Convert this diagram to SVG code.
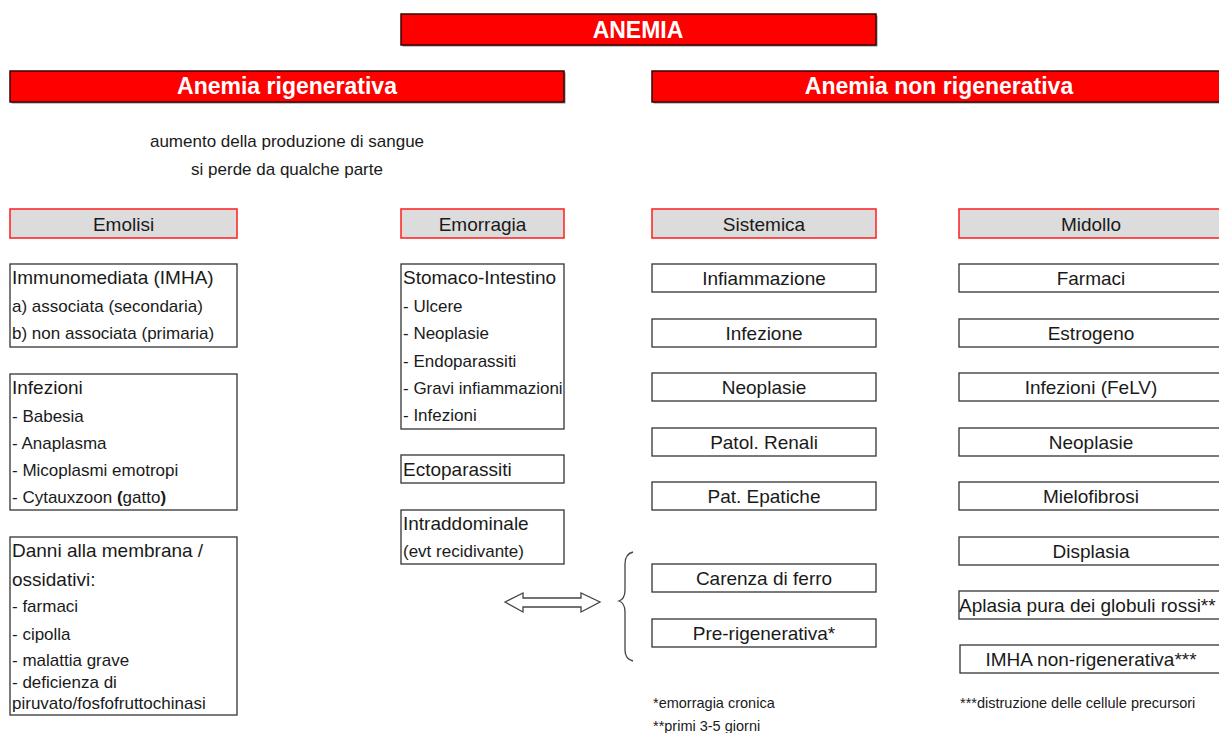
<svg xmlns="http://www.w3.org/2000/svg" width="1219" height="733" viewBox="0 0 1219 733">
<style>
text{font-family:"Liberation Sans",Arial,sans-serif;fill:#1a1a1a}
.title rect.b{fill:#ff0000;stroke:#3a0000;stroke-width:1.5}
.sh{fill:#8a8a8a}
.title text{fill:#fff;font-weight:bold;font-size:23px;text-anchor:middle}
.hdr rect{fill:#dcdcdc;stroke:#ff2a2a;stroke-width:1.6}
.hdr text{font-size:19px;text-anchor:middle}
.box rect.b{fill:#fff;stroke:#333;stroke-width:1.3}
.box .shl{fill:none;stroke:#999;stroke-width:1}
.h{font-size:19px}
.s{font-size:17px}
.c{text-anchor:middle}
.note{font-size:14.5px}
.plain{font-size:17px;text-anchor:middle}
</style>
<defs>
<filter id="none"/>
</defs>

<g id="anemia" class="title">
<rect class="sh" x="402.5" y="15.5" width="475" height="31"/>
<rect class="b" x="401" y="14" width="475" height="31"/>
<text x="638" y="38">ANEMIA</text>
</g>

<g id="anemia-rigenerativa" class="title">
<rect class="sh" x="11.5" y="72.5" width="554" height="31"/>
<rect class="b" x="10" y="71" width="554" height="31"/>
<text x="287" y="94">Anemia rigenerativa</text>
</g>

<g id="anemia-non-rigenerativa" class="title">
<rect class="sh" x="653.5" y="72.5" width="580" height="31"/>
<rect class="b" x="652" y="71" width="580" height="31"/>
<text x="939" y="94">Anemia non rigenerativa</text>
</g>

<g id="nota-rigenerativa">
<text class="plain" x="287" y="147">aumento della produzione di sangue</text>
<text class="plain" x="287" y="175">si perde da qualche parte</text>
</g>

<g id="emolisi" class="hdr">
<rect x="10" y="209" width="227" height="29"/>
<text x="123.5" y="231">Emolisi</text>
</g>
<g id="emorragia" class="hdr">
<rect x="401" y="209" width="163" height="29"/>
<text x="482.5" y="231">Emorragia</text>
</g>
<g id="sistemica" class="hdr">
<rect x="652" y="209" width="224" height="29"/>
<text x="764" y="231">Sistemica</text>
</g>
<g id="midollo" class="hdr">
<rect x="959" y="209" width="270" height="29"/>
<text x="1091" y="231">Midollo</text>
</g>

<!-- Emolisi column -->
<g id="imha" class="box">
<rect class="b" x="10" y="264" width="227" height="83"/>
<text class="h" x="12" y="284">Immunomediata (IMHA)</text>
<text class="s" x="12" y="312">a) associata (secondaria)</text>
<text class="s" x="12" y="339">b) non associata (primaria)</text>
</g>
<g id="infezioni-emolisi" class="box">
<rect class="b" x="10" y="374" width="227" height="136"/>
<text class="h" x="12" y="394">Infezioni</text>
<text class="s" x="12" y="422">- Babesia</text>
<text class="s" x="12" y="449">- Anaplasma</text>
<text class="s" x="12" y="476">- Micoplasmi emotropi</text>
<text class="s" x="12" y="503">- Cytauxzoon <tspan font-weight="bold">(</tspan>gatto<tspan font-weight="bold">)</tspan></text>
</g>
<g id="danni-membrana" class="box">
<rect class="b" x="10" y="537" width="227" height="178"/>
<text class="h" x="12" y="557">Danni alla membrana /</text>
<text class="h" x="12" y="586">ossidativi:</text>
<text class="s" x="12" y="612">- farmaci</text>
<text class="s" x="12" y="640">- cipolla</text>
<text class="s" x="12" y="666">- malattia grave</text>
<text class="s" x="12" y="688">- deficienza di</text>
<text class="s" x="12" y="709">piruvato/fosfofruttochinasi</text>
</g>

<!-- Emorragia column -->
<g id="stomaco-intestino" class="box">
<rect class="b" x="401" y="264" width="163" height="165"/>
<text class="h" x="403" y="284">Stomaco-Intestino</text>
<text class="s" x="403" y="312">- Ulcere</text>
<text class="s" x="403" y="339">- Neoplasie</text>
<text class="s" x="403" y="367">- Endoparassiti</text>
<text class="s" x="403" y="394">- Gravi infiammazioni</text>
<text class="s" x="403" y="421">- Infezioni</text>
</g>
<g id="ectoparassiti" class="box">
<rect class="b" x="401" y="455" width="163" height="28"/>
<text class="h" x="403" y="476">Ectoparassiti</text>
</g>
<g id="intraddominale" class="box">
<rect class="b" x="401" y="510" width="163" height="54"/>
<text class="h" x="403" y="530">Intraddominale</text>
<text class="s" x="403" y="557">(evt recidivante)</text>
</g>

<!-- Sistemica column -->
<g id="infiammazione" class="box">
<rect class="b" x="652" y="264" width="224" height="28"/>
<text class="h c" x="764" y="285">Infiammazione</text>
</g>
<g id="infezione" class="box">
<rect class="b" x="652" y="319" width="224" height="28"/>
<text class="h c" x="764" y="340">Infezione</text>
</g>
<g id="neoplasie-sist" class="box">
<rect class="b" x="652" y="373" width="224" height="28"/>
<text class="h c" x="764" y="394">Neoplasie</text>
</g>
<g id="patol-renali" class="box">
<rect class="b" x="652" y="428" width="224" height="28"/>
<text class="h c" x="764" y="449">Patol. Renali</text>
</g>
<g id="pat-epatiche" class="box">
<rect class="b" x="652" y="482" width="224" height="28"/>
<text class="h c" x="764" y="503">Pat. Epatiche</text>
</g>
<g id="carenza-ferro" class="box">
<rect class="b" x="652" y="564" width="224" height="28"/>
<text class="h c" x="764" y="585">Carenza di ferro</text>
</g>
<g id="pre-rigenerativa" class="box">
<rect class="b" x="652" y="619" width="224" height="28"/>
<text class="h c" x="764" y="640">Pre-rigenerativa*</text>
</g>

<!-- Midollo column -->
<g id="farmaci" class="box">
<rect class="b" x="959" y="264" width="270" height="28"/>
<text class="h c" x="1091" y="285">Farmaci</text>
</g>
<g id="estrogeno" class="box">
<rect class="b" x="959" y="319" width="270" height="28"/>
<text class="h c" x="1091" y="340">Estrogeno</text>
</g>
<g id="infezioni-felv" class="box">
<rect class="b" x="959" y="373" width="270" height="28"/>
<text class="h c" x="1091" y="394">Infezioni (FeLV)</text>
</g>
<g id="neoplasie-mid" class="box">
<rect class="b" x="959" y="428" width="270" height="28"/>
<text class="h c" x="1091" y="449">Neoplasie</text>
</g>
<g id="mielofibrosi" class="box">
<rect class="b" x="959" y="482" width="270" height="28"/>
<text class="h c" x="1091" y="503">Mielofibrosi</text>
</g>
<g id="displasia" class="box">
<rect class="b" x="959" y="537" width="270" height="28"/>
<text class="h c" x="1091" y="558">Displasia</text>
</g>
<g id="aplasia" class="box">
<rect class="b" x="959" y="591" width="270" height="28"/>
<text class="h" x="959" y="612">Aplasia pura dei globuli rossi**</text>
</g>
<g id="imha-non-rig" class="box">
<rect class="b" x="960" y="645" width="269" height="28"/>
<text class="h c" x="1091" y="666">IMHA non-rigenerativa***</text>
</g>

<!-- connectors -->
<g id="connectors" fill="none" stroke="#444" stroke-width="1.3">
<polygon points="505,602 523,593 523,598 581,598 581,593 600,602 581,612 581,607 523,607 523,612" fill="#fff"/>
<path d="M633,552 Q625,554 625,564 L625,590 Q625,599 619,601 Q625,603 625,612 L625,650 Q625,659 633,661"/>
</g>

<g id="footnotes">
<text class="note" x="653" y="708">*emorragia cronica</text>
<text class="note" x="653" y="731">**primi 3-5 giorni</text>
<text class="note" x="960" y="708">***distruzione delle cellule precursori</text>
</g>
</svg>
